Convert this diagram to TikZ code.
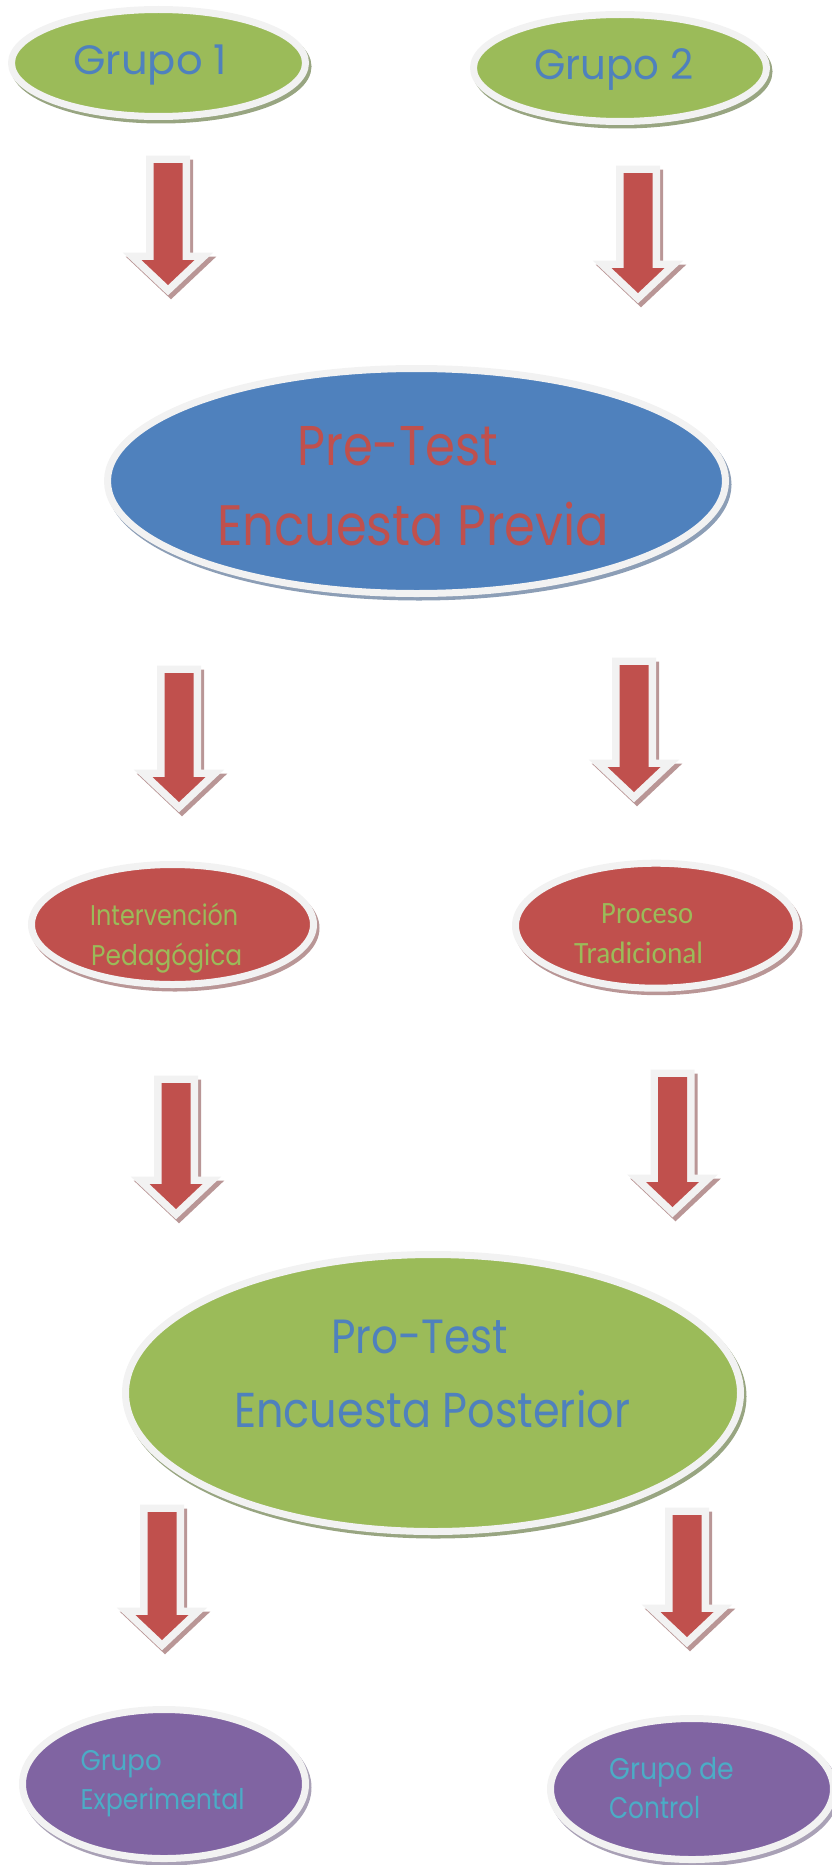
\documentclass[tikz,border=0pt]{standalone}
\usepackage{fontspec}
\usepackage{graphicx}
\usetikzlibrary{shapes.geometric,shadows,positioning}
\newfontfamily\gothfont{Poppins}
\newfontfamily\calfont{Carlito}
\definecolor{ovgreen}{HTML}{9BBB59}
\definecolor{ovblue}{HTML}{4F81BD}
\definecolor{ovred}{HTML}{C0504D}
\definecolor{ovpurple}{HTML}{8064A2}
\definecolor{txteal}{HTML}{4BACC6}
\definecolor{rim}{HTML}{F2F2F2}
\definecolor{gshade}{HTML}{98A581}
\definecolor{bshade}{HTML}{8C9EB6}
\definecolor{rshade}{HTML}{B99696}
\definecolor{pshade}{HTML}{A9A1B6}
% 文字按宽度缩放
\newcommand\fitto[3]{\resizebox{#1pt}{\height}{\fontsize{#2}{#2}\selectfont #3}}
\tikzset{
  oval/.style={ellipse, draw=rim, line width=7pt, inner sep=0pt},
  ovshadow/.style={drop shadow={shadow xshift=2.5pt, shadow yshift=-3.5pt, opacity=1, fill=#1, draw=#1, line width=7pt}},
  greenoval/.style={oval, fill=ovgreen, ovshadow=gshade},
  blueoval/.style={oval, fill=ovblue, ovshadow=bshade},
  redoval/.style={oval, fill=ovred, ovshadow=rshade},
  purpleoval/.style={oval, fill=ovpurple, ovshadow=pshade},
  lbl/.style={anchor=base west, inner sep=0pt, font=\gothfont},
  darrow/.pic={
    \draw[line width=15pt, draw=rshade, fill=rshade, xshift=3pt, yshift=-4pt]
      (-14.5,0) -- (14.5,0) -- (14.5,#1-25) -- (26.5,#1-25) -- (0,#1) -- (-26.5,#1-25) -- (-14.5,#1-25) -- cycle;
    \draw[line width=15pt, draw=rim]
      (-14.5,0) -- (14.5,0) -- (14.5,#1-25) -- (26.5,#1-25) -- (0,#1) -- (-26.5,#1-25) -- (-14.5,#1-25) -- cycle;
    \fill[ovred]
      (-14.5,0) -- (14.5,0) -- (14.5,#1-25) -- (26.5,#1-25) -- (0,#1) -- (-26.5,#1-25) -- (-14.5,#1-25) -- cycle;
  }
}
\begin{document}
\begin{tikzpicture}[x=1pt, y=-1pt]
\useasboundingbox (0,0) rectangle (831,1865);
% 两组
\node[greenoval, minimum width=294, minimum height=107] (g1) at (158.5,63) {};
\node[greenoval, minimum width=293, minimum height=107] (g2) at (620,68) {};
\node[lbl, text=ovblue] (g1t) at (73,75) {\fitto{154}{41}{Grupo 1}};
\node[lbl, text=ovblue] (g2t) at (534,80) {\fitto{159}{42}{Grupo 2}};
\pic (a1) at (168,163) {darrow=122};
\pic (a2) at (638,173) {darrow=120};
% 前测
\node[blueoval, minimum width=618, minimum height=225] (pre) at (416.5,481) {};
\node[lbl, text=ovred] (pret) at (297,465) {\fitto{201}{56}{Pre-Test}};
\node[lbl, text=ovred] (prev) at (217,545) {\fitto{392}{57}{Encuesta Previa}};
\pic (a3) at (179,673) {darrow=129};
\pic (a4) at (634,665) {darrow=127};
% 两种过程
\node[redoval, minimum width=282, minimum height=120] (int) at (172.5,924.5) {};
\node[redoval, minimum width=281, minimum height=125] (proc) at (656,925.7) {};
\node[lbl, text=ovgreen] (intt) at (90,925) {\fitto{148}{28.5}{Intervención}};
\node[lbl, text=ovgreen] (pedt) at (91,965) {\fitto{151}{28.5}{Pedagógica}};
\node[lbl, text=ovgreen, font=\calfont] (proct) at (601,923) {\fitto{92}{31}{Proceso}};
\node[lbl, text=ovgreen, font=\calfont] (tradt) at (574,963) {\fitto{129}{31}{Tradicional}};
\pic (a5) at (176,1083) {darrow=126};
\pic (a6) at (672.5,1077) {darrow=130};
% 后测
\node[greenoval, minimum width=615, minimum height=277] (pro) at (433,1393) {};
\node[lbl, text=ovblue] (prot) at (331,1353) {\fitto{177}{48}{Pro-Test}};
\node[lbl, text=ovblue] (post) at (234,1427) {\fitto{396}{49}{Encuesta Posterior}};
\pic (a7) at (162,1512) {darrow=128};
\pic (a8) at (687,1515) {darrow=122};
% 结果组
\node[purpleoval, minimum width=283, minimum height=149] (exp) at (164,1784) {};
\node[purpleoval, minimum width=283, minimum height=141] (ctl) at (692,1789) {};
\node[lbl, text=txteal] (expa) at (80.5,1770) {\fitto{81}{28.5}{Grupo}};
\node[lbl, text=txteal] (expb) at (80.5,1809) {\fitto{164}{28.5}{Experimental}};
\node[lbl, text=txteal] (ctla) at (609,1779) {\fitto{125}{30}{Grupo de}};
\node[lbl, text=txteal] (ctlb) at (609,1818) {\fitto{91}{30}{Control}};
\end{tikzpicture}
\end{document}
